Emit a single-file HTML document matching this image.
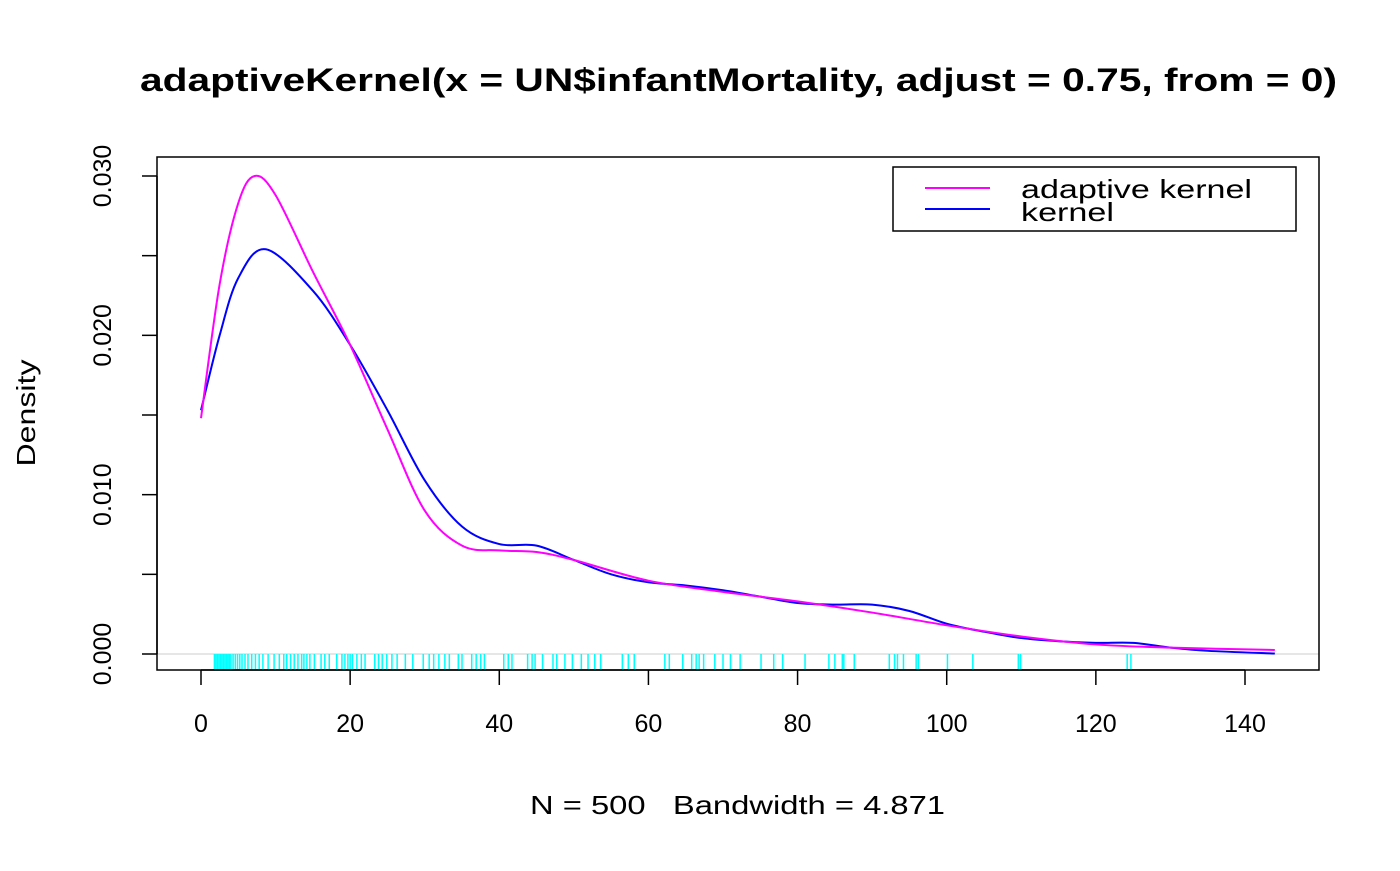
<!DOCTYPE html>
<html><head><meta charset="utf-8"><style>
body{margin:0;background:#fff}
svg text{font-family:"Liberation Sans",sans-serif;fill:#000}
</style></head><body>
<svg id="chart" width="1400" height="866" viewBox="0 0 1400 866" xmlns="http://www.w3.org/2000/svg">
<rect width="1400" height="866" fill="#fff"/>
<text x="140" y="91" font-size="32" font-weight="bold" textLength="1197" lengthAdjust="spacingAndGlyphs">adaptiveKernel(x = UN$infantMortality, adjust = 0.75, from = 0)</text>
<text x="530" y="814" font-size="26" textLength="415" lengthAdjust="spacingAndGlyphs" xml:space="preserve">N = 500   Bandwidth = 4.871</text>
<text transform="translate(35,413) rotate(-90)" font-size="26" text-anchor="middle" textLength="107" lengthAdjust="spacingAndGlyphs">Density</text>
<line x1="157" x2="1319" y1="654" y2="654" stroke="#ddd" stroke-width="1.5"/>
<g id="rug"></g>
<g id="axes"></g>
<path id="kern" fill="none" stroke="#0000ff" stroke-width="2"/>
<path id="adapt" fill="none" stroke="#ff00ff" stroke-width="2"/>
<rect x="157" y="157" width="1162" height="513" fill="none" stroke="#000" stroke-width="1.5"/>
<g>
<rect x="893" y="167" width="403" height="64" fill="#fff" stroke="#000" stroke-width="1.5"/>
<line x1="925" x2="990" y1="188" y2="188" stroke="#ff00ff" stroke-width="2"/>
<text x="1021" y="198" font-size="26" textLength="231" lengthAdjust="spacingAndGlyphs">adaptive kernel</text>
<line x1="925" x2="990" y1="209" y2="209" stroke="#0000ff" stroke-width="2"/>
<text x="1021" y="221" font-size="26" textLength="93" lengthAdjust="spacingAndGlyphs">kernel</text>
</g>
</svg>
<script>
const xTicks=[0,20,40,60,80,100,120,140];
const yTicks=[0,0.005,0.01,0.015,0.02,0.025,0.03];
const yTickLabels=["0.000","","0.010","","0.020","","0.030"];
const kernX=[0,2.5,5,8.7,15,20,25,30,35,40,45,50,55,60,65,70,75,80,85,90,95,100,105,110,115,120,125,130,135,144];
const kernY=[0.0153,0.0200,0.0236,0.0254,0.0228,0.0194,0.0153,0.0109,0.0080,0.0069,0.0068,0.0059,0.0050,0.0045,0.0043,0.0040,0.0036,0.0032,0.0031,0.0031,0.0027,0.0019,0.0014,0.0010,0.0008,0.0007,0.0007,0.0004,0.0002,0.00003];
const adaptX=[0,2.5,5,7.2,10,15,20,25,30,35,40,45,50,60,70,80,90,100,110,120,130,144];
const adaptY=[0.0148,0.0232,0.0283,0.0300,0.0288,0.0240,0.0194,0.0141,0.0090,0.0068,0.0065,0.0064,0.0059,0.0046,0.0039,0.0033,0.0026,0.0018,0.0011,0.0006,0.0004,0.00025];
const rugValues=[1.8,2.0,2.2,2.4,2.6,2.8,3.0,3.2,3.4,3.6,3.8,4.0,4.3,4.6,4.9,5.2,5.5,5.9,6.3,6.8,7.3,7.8,8.3,9.0,9.8,10.5,11.1,11.5,12.0,12.5,13.0,13.5,13.8,14.2,14.6,15.2,16.1,16.6,17.2,18.2,18.9,19.3,19.7,20.0,20.3,20.9,21.5,22.0,23.3,23.8,24.3,24.9,25.6,26.3,27.4,28.4,29.8,30.6,31.2,31.9,32.7,33.3,34.5,35.0,36.3,36.9,37.5,38.0,40.6,41.2,41.7,43.8,44.4,44.8,45.8,47.2,47.7,48.8,49.8,51.0,51.9,52.8,53.6,56.5,57.3,58.1,62.2,62.8,64.6,65.8,66.4,66.8,67.4,68.9,70.0,71.0,72.3,75.1,76.8,78.0,81.0,84.2,85.0,86.0,86.2,87.6,92.3,93.0,93.4,94.2,95.9,96.2,100.1,103.5,109.6,109.9,124.2,124.7];
const NS="http://www.w3.org/2000/svg";
const sx=v=>201+v*(1245-201)/140;
const sy=v=>654-v*(654-176)/0.03;
function mk(tag,attrs,parent){const e=document.createElementNS(NS,tag);for(const k in attrs)e.setAttribute(k,attrs[k]);parent.appendChild(e);return e;}
const axes=document.getElementById('axes');
mk('line',{x1:sx(0),x2:sx(140),y1:670,y2:670,stroke:'#000','stroke-width':1.5},axes);
xTicks.forEach(t=>{
  const l=mk('line',{x1:sx(t),x2:sx(t),y1:670,y2:685,stroke:'#000','stroke-width':1.5},axes);
  
  
  const tx=mk('text',{x:sx(t),y:732,'font-size':25,'text-anchor':'middle'},axes);
  tx.textContent=t;
  
  
});
mk('line',{x1:157,x2:157,y1:sy(0),y2:sy(0.03),stroke:'#000','stroke-width':1.5},axes);
yTicks.forEach((t,i)=>{
  const l=mk('line',{x1:142,x2:157,y1:sy(t),y2:sy(t),stroke:'#000','stroke-width':1.5},axes);
  
  
  if(yTickLabels[i]){
    const tx=mk('text',{transform:`translate(111,${sy(t)}) rotate(-90)`,'font-size':25,'text-anchor':'middle'},axes);
    tx.textContent=yTickLabels[i];
    
    
  }
});
const rug=document.getElementById('rug');
rugValues.forEach(v=>{
  const l=mk('line',{x1:sx(v),x2:sx(v),y1:654,y2:669,stroke:'#00ffff','stroke-width':1.5},rug);
  
  
});
function smooth(xs,ys){
  const p=xs.map((x,i)=>[sx(x),sy(ys[i])]);
  let d=`M${p[0][0]},${p[0][1]}`;
  for(let i=0;i<p.length-1;i++){
    const p0=p[Math.max(0,i-1)],p1=p[i],p2=p[i+1],p3=p[Math.min(p.length-1,i+2)];
    const c1=[p1[0]+(p2[0]-p0[0])/6,p1[1]+(p2[1]-p0[1])/6];
    const c2=[p2[0]-(p3[0]-p1[0])/6,p2[1]-(p3[1]-p1[1])/6];
    d+=`C${c1[0]},${c1[1]} ${c2[0]},${c2[1]} ${p2[0]},${p2[1]}`;
  }
  return d;
}
document.getElementById('kern').setAttribute('d',smooth(kernX,kernY));
document.getElementById('adapt').setAttribute('d',smooth(adaptX,adaptY));
</script>
</body></html>
